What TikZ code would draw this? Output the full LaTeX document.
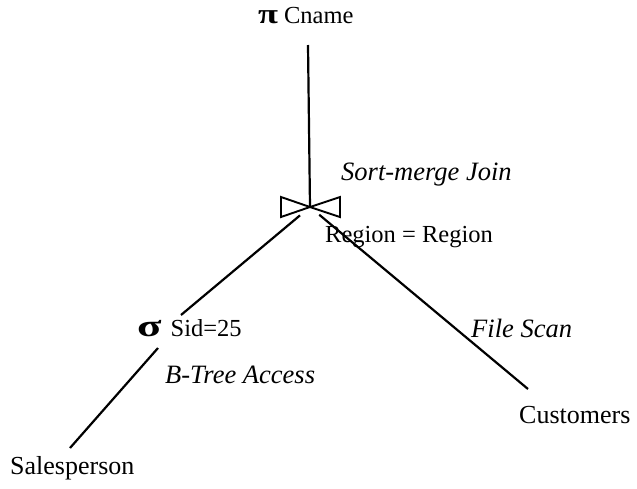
\documentclass[tikz,border=0pt]{standalone}
\usepackage{fontspec}
\setmainfont{Liberation Serif}
\usetikzlibrary{positioning}

\newcommand{\bigop}[3]{\scalebox{#1}[1]{\fontsize{#2}{#2}\selectfont\bfseries #3}}

\begin{document}
\begin{tikzpicture}[x=1pt, y=-1pt,
	label/.style={inner sep=0pt, anchor=base west, font=\fontsize{26}{30}\selectfont},
	cond/.style={label, font=\fontsize{24.5}{28}\selectfont},
	algo/.style={label, font=\fontsize{26.5}{30}\selectfont\itshape},
	edge/.style={line width=2.2pt},
	bowtie/.style={line width=1.9pt, line join=miter}]
	\useasboundingbox (0,0) rectangle (637,488);

	% operator texts
	\node [cond] (proj) at (258,23) {\bigop{1.3}{28}{π}\hspace{6pt}Cname};
	\node [cond] (sel) at (137,336) {\bigop{1.45}{31}{σ}\hspace{9pt}Sid=25};
	\node [cond] (joincond) at (325,242) {Region = Region};

	% access methods
	\node [algo] (joinalg) at (341,180) {Sort-merge Join};
	\node [algo] (selalg) at (165,383) {B-Tree Access};
	\node [algo] (scanalg) at (471,337) {File Scan};

	% relations
	\node [label] (cust) at (519,423) {Customers};
	\node [label] (sales) at (10,474) {Salesperson};

	% tree points
	\coordinate (join) at (310,207);
	\coordinate (projfoot) at (308,45);
	\coordinate (seltop) at (181,315);
	\coordinate (selfoot) at (158,348);
	\coordinate (salesend) at (70,448);
	\coordinate (custend) at (528,389);

	% join symbol
	\draw [bowtie] (join) -- ++(-29,-10) -- ++(0,20) -- cycle;
	\draw [bowtie] (join) -- ++(30,-10) -- ++(0,20) -- cycle;

	\draw [edge] (projfoot) -- (join);
	\draw [edge, shorten <=13pt] (join) -- (seltop);
	\draw [edge, shorten <=12pt] (join) -- (custend);
	\draw [edge] (selfoot) -- (salesend);
\end{tikzpicture}
\end{document}
